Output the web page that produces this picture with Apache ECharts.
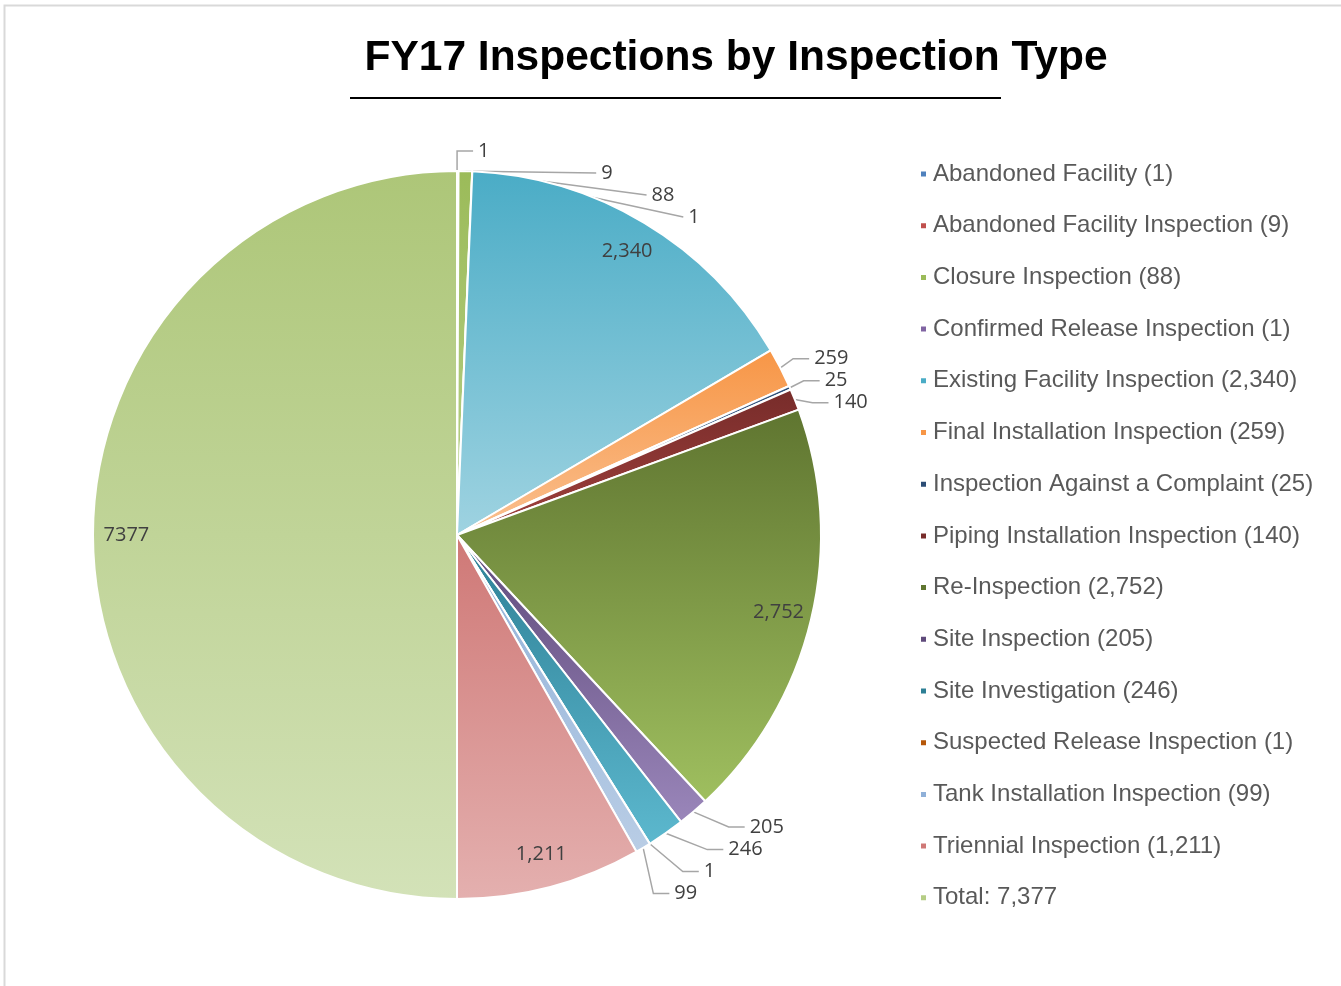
<!DOCTYPE html>
<html>
<head>
<meta charset="utf-8">
<title>FY17 Inspections by Inspection Type</title>
<script src="https://cdn.jsdelivr.net/npm/echarts@6/dist/echarts.min.js"></script>
<style>
  html, body { margin: 0; padding: 0; background: #fff; }
  #chart { width: 1341px; height: 986px; }
</style>
</head>
<body>
<div id="chart"></div>
<script>
// inspection types, clockwise from 12 o'clock
var types = [
  'Abandoned Facility', 'Abandoned Facility Inspection', 'Closure Inspection',
  'Confirmed Release Inspection', 'Existing Facility Inspection', 'Final Installation Inspection',
  'Inspection Against a Complaint', 'Piping Installation Inspection', 'Re-Inspection',
  'Site Inspection', 'Site Investigation', 'Suspected Release Inspection',
  'Tank Installation Inspection', 'Triennial Inspection', 'Total'
];
var counts = [1, 9, 88, 1, 2340, 259, 25, 140, 2752, 205, 246, 1, 99, 1211, 7377];

// slice colours: dark (top of slice) -> light (bottom of slice)
var darkColors = ['#4f81bd', '#c0504d', '#9bbb59', '#8064a2', '#4aacc6', '#f79646', '#2c4d75',
  '#772c2a', '#5f7530', '#5f4a7b', '#2d7f95', '#b65708', '#8fb0d8', '#cf7876', '#adc678'];
var lightColors = ['#95b3d7', '#d99694', '#b8d08a', '#b3a2c7', '#9fd3e1', '#fac090', '#4f81bd',
  '#a0403d', '#9fbf5f', '#9a86ba', '#5cb8ce', '#f79646', '#b9cde5', '#e4b0af', '#d3e2b8'];
var legendColors = ['#4f81bd', '#c0504d', '#9bbb59', '#8064a2', '#4aacc6', '#f79646', '#2c4d75',
  '#772c2a', '#5f7530', '#5f4a7b', '#2d7f95', '#b65708', '#8fb0d8', '#cf7876', '#b5cd85'];

function fmt(v) {
  return v.toLocaleString('en-US');
}

var big = 1000; // slices above this get their label inside

var mainData = [], labelData = [], legendData = [];
for (var i = 0; i < types.length; i++) {
  var grad = {
    type: 'linear', x: 0, y: 0, x2: 0, y2: 1,
    colorStops: [{offset: 0, color: darkColors[i]}, {offset: 1, color: lightColors[i]}]
  };
  mainData.push({
    name: types[i],
    value: counts[i],
    itemStyle: {color: grad},
    label: {show: counts[i] < big},
    labelLine: {show: counts[i] < big}
  });
  labelData.push({
    name: types[i],
    value: counts[i],
    label: {show: counts[i] >= big}
  });
  legendData.push({name: types[i], itemStyle: {color: legendColors[i]}});
}

var R = 364;
var chart = echarts.init(document.getElementById('chart'));
var option = {
  backgroundColor: '#ffffff',
  animation: false,
  title: {
    text: 'FY17 Inspections by Inspection Type',
    left: 731,
    textAlign: 'center',
    top: 32,
    textStyle: {
      fontFamily: 'Liberation Sans, Arial, sans-serif',
      fontWeight: 'bold',
      fontSize: 42.5,
      color: '#000'
    }
  },
  graphic: [
    {
      type: 'rect',
      shape: {x: 4.5, y: 5.5, width: 1400, height: 1000},
      style: {fill: 'none', stroke: '#d9d9d9', lineWidth: 2},
      silent: true
    },
    {
      type: 'line',
      shape: {x1: 350, y1: 98, x2: 1001, y2: 98},
      style: {stroke: '#000', lineWidth: 2},
      silent: true
    }
  ],
  legend: {
    orient: 'vertical',
    left: 914,
    top: 157,
    itemWidth: 7,
    itemHeight: 7,
    itemGap: 27.7,
    icon: 'rect',
    selectedMode: false,
    data: legendData,
    formatter: function (name) {
      var v = counts[types.indexOf(name)];
      if (name === 'Total') return 'Total: ' + fmt(v);
      return name + ' (' + fmt(v) + ')';
    },
    textStyle: {
      fontFamily: 'Liberation Sans, Arial, sans-serif',
      fontSize: 24,
      lineHeight: 24,
      color: '#595959',
      padding: [0, 0, 0, 1]
    }
  },
  series: [
    {
      name: 'Inspections',
      type: 'pie',
      center: [457, 535],
      radius: [0, R],
      startAngle: 90,
      clockwise: true,
      avoidLabelOverlap: true,
      itemStyle: {borderColor: '#fff', borderWidth: 2},
      label: {
        position: 'outside',
        fontFamily: 'Open Sans, Noto Sans, sans-serif',
        fontSize: 20,
        color: '#404040',
        formatter: function (p) {
          return p.name === 'Total' ? String(p.value) : fmt(p.value);
        }
      },
      labelLine: {
        length: 20,
        length2: 16,
        lineStyle: {color: '#a6a6a6', width: 1.5}
      },
      data: mainData
    },
    {
      // transparent copy so the big labels sit near the rim like the original
      name: 'labels',
      type: 'pie',
      center: [457, 535],
      radius: [0, R * 1.8],
      startAngle: 90,
      clockwise: true,
      silent: true,
      z: 3,
      itemStyle: {color: 'rgba(0,0,0,0)'},
      label: {
        position: 'inside',
        fontFamily: 'Open Sans, Noto Sans, sans-serif',
        fontSize: 20,
        color: '#404040',
        formatter: function (p) {
          return p.name === 'Total' ? String(p.value) : fmt(p.value);
        }
      },
      labelLine: {show: false},
      data: labelData
    }
  ]
};
chart.setOption(option);
</script>
</body>
</html>
